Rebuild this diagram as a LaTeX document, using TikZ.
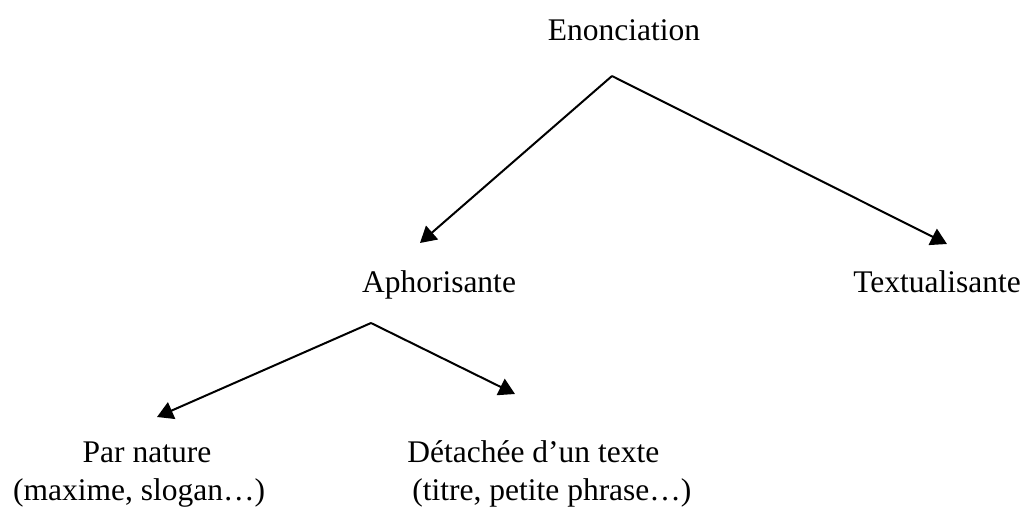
\documentclass[tikz,border=0pt]{standalone}
\usepackage{fontspec}
\setmainfont{Liberation Serif}
\usetikzlibrary{arrows.meta}
\begin{document}
\begin{tikzpicture}[x=0.5pt,y=-0.5pt,
  lbl/.style={font=\fontsize{15.75}{18}\selectfont, inner sep=0pt, anchor=base},
  arr/.style={line width=1pt, -{Triangle[length=8pt,width=9pt]}}]
\useasboundingbox (0,0) rectangle (1025,509);
\node[lbl] (enon) at (624,40) {Enonciation};
\node[lbl] (aph) at (439,292) {Aphorisante};
\node[lbl] (textu) at (937,292) {Textualisante};
\node[lbl] (nat) at (147,462) {Par nature};
\node[lbl] (natx) at (139,500) {(maxime, slogan…)};
\node[lbl,anchor=base west] (det) at (407,462) {Détachée d’un texte};
\node[lbl,anchor=base west] (detx) at (412,500) {(titre, petite phrase…)};
\coordinate (apexA) at (612,76);
\coordinate (apexB) at (371,323);
\coordinate (tipAph) at (420,243);
\coordinate (tipTex) at (947,244);
\coordinate (tipNat) at (157,417);
\coordinate (tipDet) at (515,394);
\draw[arr] (apexA) -- (tipAph);
\draw[arr] (apexA) -- (tipTex);
\draw[arr] (apexB) -- (tipNat);
\draw[arr] (apexB) -- (tipDet);
\end{tikzpicture}
\end{document}
